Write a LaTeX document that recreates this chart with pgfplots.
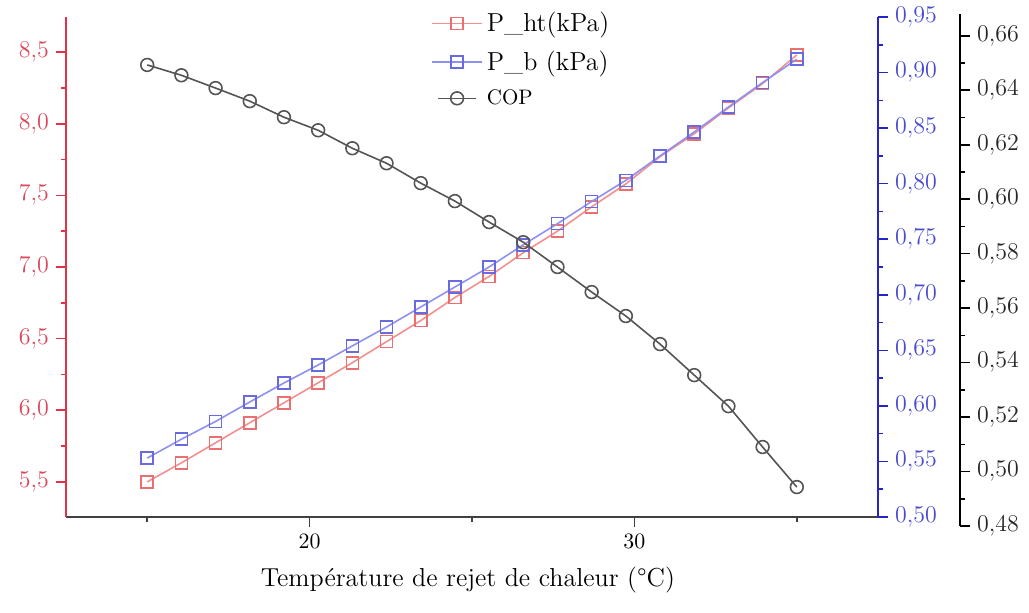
\documentclass[border=0pt]{standalone}
\usepackage{fontspec}
\usepackage{pgfplots}
\pgfplotsset{compat=1.18}
\definecolor{redaxis}{HTML}{E23148}
\definecolor{redlabel}{HTML}{D8485A}
\definecolor{redline}{HTML}{F29090}
\definecolor{redmark}{HTML}{E87070}
\definecolor{blueaxis}{HTML}{2424C8}
\definecolor{bluelabel}{HTML}{4B4BD0}
\definecolor{blueline}{HTML}{9090F0}
\definecolor{bluemark}{HTML}{6A6AE0}
\definecolor{copline}{HTML}{555555}
\definecolor{axisgray}{HTML}{404040}
\begin{document}
\begin{tikzpicture}
\pgfplotsset{
  base/.style={scale only axis, width=406pt, height=250pt, xmin=12.5, xmax=37.5,
    tick align=outside, major tick length=5pt, minor tick length=2.5pt, clip=false,
    axis line style={line width=1pt}, every tick/.append style={line width=0.8pt}},
  ylab/.style n args={2}{yticklabel style={text=#1, font=\fontsize{12}{14}\selectfont,
    /pgf/number format/.cd, fixed, fixed zerofill, precision=#2, use comma}},
  redstyle/.style={redline, line width=0.8pt, mark=square, mark size=3pt,
    mark options={solid, draw=redmark, fill=white, line width=0.8pt}},
  bluestyle/.style={blueline, line width=0.8pt, mark=square, mark size=3pt,
    mark options={solid, draw=bluemark, fill=white, line width=0.8pt}},
  copstyle/.style={copline, line width=0.8pt, mark=o, mark size=3.2pt,
    mark options={solid, draw=copline, fill=white, line width=0.8pt}},
}
% Axis 1: red P_ht
\begin{axis}[base, at={(0,0)}, anchor=south west,
  axis x line*=bottom, axis y line*=left,
  ymin=5.255, ymax=8.745,
  ytick={5.5,6.0,6.5,7.0,7.5,8.0,8.5}, minor y tick num=1,
  xtick={20,30}, minor xtick={15,25,35},
  x axis line style={draw=axisgray}, xtick style={draw=axisgray},
  y axis line style={draw=redaxis}, ytick style={draw=redaxis},
  ylab={redlabel}{1},
  xticklabel style={font=\fontsize{11}{13}\selectfont},
  xlabel={Température de rejet de chaleur (°C)},
  xlabel style={at={(axis description cs:0.495,-0.126)}, anchor=center, font=\fontsize{13}{15}\selectfont},
  legend style={draw=none, fill=none, at={(0.442,1.026)}, anchor=north west,
    font=\fontsize{13}{15}\selectfont, row sep=4pt},
  legend cell align=left,
  legend image code/.code={\draw[mark repeat=2, mark phase=2] plot coordinates {(0pt,0pt) (12.5pt,0pt) (25pt,0pt)};},
]
\addplot[redstyle] coordinates {
(15,5.50) (16.0526,5.633) (17.1053,5.773) (18.1579,5.913) (19.2105,6.052)
(20.2632,6.192) (21.3158,6.332) (22.3684,6.479) (23.4211,6.626) (24.4737,6.787)
(25.5263,6.934) (26.5789,7.100) (27.6316,7.250) (28.6842,7.420) (29.7368,7.580)
(30.7895,7.770) (31.8421,7.930) (32.8947,8.110) (33.9474,8.280) (35,8.480)};
\addlegendentry{P\_ht(kPa)}
\addlegendimage{bluestyle}
\addlegendentry{P\_b (kPa)}
\addlegendimage{copstyle, legend image code/.code={\draw[mark repeat=2, mark phase=2] plot coordinates {(3pt,0pt) (12.5pt,0pt) (22pt,0pt)};}}
\addlegendentry{\fontsize{10.5}{12}\selectfont COP}
\end{axis}
% Axis 2: blue P_b
\begin{axis}[base, at={(0,0)}, anchor=south west,
  hide x axis, axis y line*=right,
  ymin=0.5, ymax=0.95,
  ytick={0.50,0.55,0.60,0.65,0.70,0.75,0.80,0.85,0.90,0.95}, minor y tick num=1,
  y axis line style={draw=blueaxis}, ytick style={draw=blueaxis},
  ylab={bluelabel}{2},
]
\addplot[bluestyle] coordinates {
(15,0.553) (16.0526,0.570) (17.1053,0.586) (18.1579,0.6035) (19.2105,0.6206)
(20.2632,0.6368) (21.3158,0.654) (22.3684,0.671) (23.4211,0.689) (24.4737,0.707)
(25.5263,0.725) (26.5789,0.745) (27.6316,0.764) (28.6842,0.784) (29.7368,0.803)
(30.7895,0.825) (31.8421,0.8465) (32.8947,0.869) (33.9474,0.891) (35,0.912)};
\end{axis}
% Axis 3: COP data
\begin{axis}[base, at={(0,-4.5pt)}, anchor=south west, height=256pt,
  hide x axis, hide y axis,
  ymin=0.48, ymax=0.668,
]
\addplot[copstyle] coordinates {
(15,0.6493) (16.0526,0.6455) (17.1053,0.6408) (18.1579,0.6360) (19.2105,0.6301)
(20.2632,0.6253) (21.3158,0.6187) (22.3684,0.6132) (23.4211,0.6059) (24.4737,0.5993)
(25.5263,0.5916) (26.5789,0.5842) (27.6316,0.5751) (28.6842,0.5659) (29.7368,0.5571)
(30.7895,0.5468) (31.8421,0.5354) (32.8947,0.5240) (33.9474,0.5090) (35,0.4943)};
\end{axis}
% Axis 4: offset black COP axis
\begin{axis}[scale only axis, at={(437pt,-4.5pt)}, anchor=south west, width=10pt, height=256pt,
  xmin=0, xmax=1, ymin=0.48, ymax=0.668,
  hide x axis, axis y line*=right,
  tick align=outside, major tick length=5pt, minor tick length=2.5pt,
  axis line style={line width=1pt}, every tick/.append style={line width=0.8pt},
  y axis line style={draw=black}, ytick style={draw=black},
  ytick={0.48,0.50,0.52,0.54,0.56,0.58,0.60,0.62,0.64,0.66}, minor y tick num=1,
  ylab={black!85}{2},
]
\addplot[draw=none] coordinates {(0.5,0.55)};
\end{axis}
\path (-33pt,-47.5pt) rectangle (481.5pt,258.5pt);
\end{tikzpicture}
\end{document}
